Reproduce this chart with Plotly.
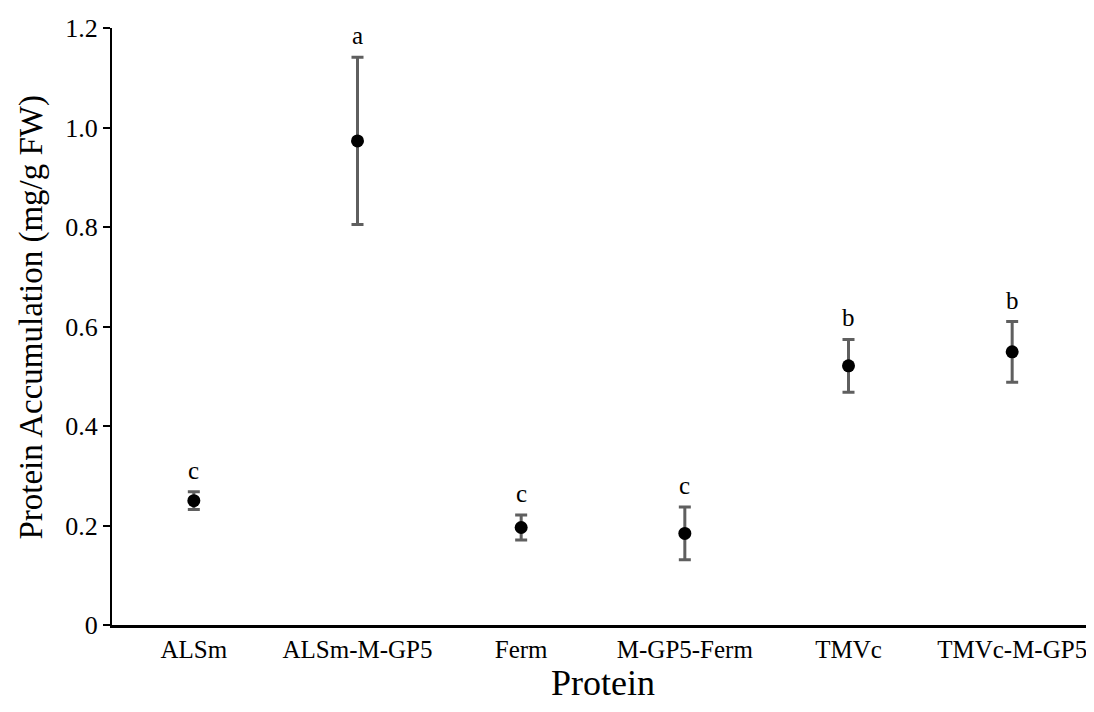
import plotly.graph_objects as go

categories = ["ALSm", "ALSm-M-GP5", "Ferm", "M-GP5-Ferm", "TMVc", "TMVc-M-GP5"]
means = [0.250, 0.973, 0.196, 0.184, 0.521, 0.549]
errors = [0.018, 0.168, 0.025, 0.053, 0.053, 0.061]
letters = ["c", "a", "c", "c", "b", "b"]
y_tickvals = [0, 0.2, 0.4, 0.6, 0.8, 1.0, 1.2]
y_ticktext = ["0", "0.2", "0.4", "0.6", "0.8", "1.0", "1.2"]

FONT = "Liberation Serif, Times New Roman, serif"

fig = go.Figure()
fig.add_trace(go.Scatter(
    x=categories, y=means, mode="markers",
    marker=dict(color="black", size=13),
    error_y=dict(type="data", array=errors, visible=True,
                 color="#5f5f5f", thickness=3, width=6),
    showlegend=False,
))

for c, m, e, t in zip(categories, means, errors, letters):
    fig.add_annotation(x=c, y=m + e, text=t, showarrow=False,
                       yanchor="bottom", yshift=6,
                       font=dict(family=FONT, size=25, color="black"))

# y-axis title placed as rotated annotation
fig.add_annotation(text="Protein Accumulation (mg/g FW)", xref="paper", yref="paper",
                   x=0, y=0.515, xanchor="center", yanchor="middle",
                   xshift=-80, textangle=-90, showarrow=False,
                   font=dict(family=FONT, size=33, color="black"))

fig.update_layout(
    width=1086, height=704,
    margin=dict(l=104, r=0, t=20, b=87),
    paper_bgcolor="white", plot_bgcolor="white",
    font=dict(family=FONT, color="black"),
    xaxis=dict(
        range=[-0.5, 5.5], showgrid=False, zeroline=False,
        showline=True, linecolor="black", linewidth=2.5,
        ticks="", tickfont=dict(size=25, family=FONT),
        title=dict(text="Protein", font=dict(size=36, family=FONT), standoff=2),
    ),
    yaxis=dict(
        range=[0, 1.2], showgrid=False, zeroline=False,
        showline=True, linecolor="black", linewidth=2,
        ticks="outside", ticklen=7, tickwidth=2, tickcolor="black",
        tickvals=y_tickvals, ticktext=y_ticktext,
        tickfont=dict(size=26, family=FONT),
    ),
)

fig.write_html("out.html")
